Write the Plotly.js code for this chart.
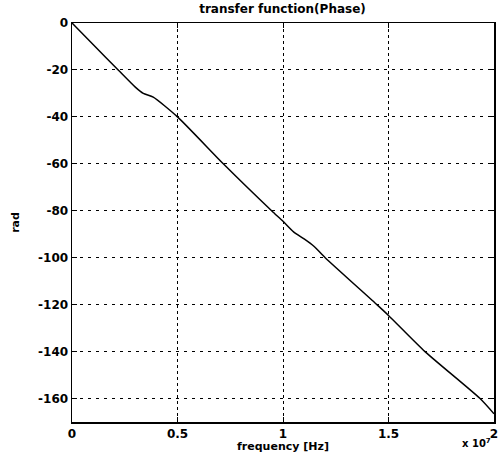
<!DOCTYPE html>
<html>
<head>
<meta charset="utf-8">
<script src="https://cdn.plot.ly/plotly-3.0.1.min.js"></script>
<style>html,body{margin:0;padding:0;background:#fff;}#chart{width:500px;height:453px;}</style>
</head>
<body>
<div id="chart"></div>
<script>
// frequency in units of 1e7 Hz
const freq = [0, 0.1, 0.219, 0.3, 0.338, 0.385, 0.5, 0.717, 0.946, 1.0, 1.05, 1.1, 1.145, 1.2, 1.445, 1.5, 1.673, 1.934, 2.0];
const phase = [0, -9.2, -20, -27.3, -30, -31.6, -40, -60, -80, -84.5, -89, -92, -95, -100, -120, -124.6, -140, -160, -166.5];
const xTicks = [0, 0.5, 1, 1.5, 2];
const xTickText = ['0', '0.5', '1', '1.5', '2'];
const yTicks = [0, -20, -40, -60, -80, -100, -120, -140, -160];
const yTickText = ['0', '-20', '-40', '-60', '-80', '-100', '-120', '-140', '-160'];

const font = {family: 'DejaVu Sans, sans-serif', size: 12, color: '#000', weight: 'bold'};
const smallFont = {family: 'DejaVu Sans, sans-serif', size: 11, color: '#000', weight: 'bold'};
const expFont = {family: 'DejaVu Sans, sans-serif', size: 10, color: '#000', weight: 'bold'};

Plotly.newPlot('chart', [{
  x: freq, y: phase, type: 'scatter', mode: 'lines',
  line: {color: '#000', width: 1.5, shape: 'spline', smoothing: 0.6}
}], {
  width: 500, height: 453,
  margin: {l: 72, r: 6, t: 23, b: 31},
  paper_bgcolor: '#fff', plot_bgcolor: '#fff',
  showlegend: false,
  font: font,
  title: {text: 'transfer function(Phase)', font: font, x: 0.565, xanchor: 'center', y: 0.99, yanchor: 'top'},
  xaxis: {
    range: [0, 2], tickvals: xTicks, ticktext: xTickText,
    showline: true, linecolor: '#000', linewidth: 1.5, mirror: 'ticks',
    ticks: 'inside', ticklen: 5, tickcolor: '#000',
    showgrid: true, gridcolor: '#000', gridwidth: 1, griddash: 'dot',
    zeroline: false, tickfont: font,
    title: {text: 'frequency [Hz]', font: smallFont, standoff: 0}
  },
  yaxis: {
    range: [-170, 0], tickvals: yTicks, ticktext: yTickText,
    showline: true, linecolor: '#000', linewidth: 1.5, mirror: 'ticks',
    ticks: 'inside', ticklen: 5, tickcolor: '#000',
    showgrid: true, gridcolor: '#000', gridwidth: 1, griddash: '3px,5px',
    zeroline: false, tickfont: font,
    title: {text: 'rad', font: smallFont, standoff: 16}
  },
  annotations: [{
    text: 'x 10<sup>7</sup>', xref: 'paper', yref: 'paper', x: 0.995, y: -0.034,
    xanchor: 'right', yanchor: 'top', showarrow: false, font: expFont,
    borderpad: 0
  }]
}, {displayModeBar: false, staticPlot: true});
</script>
</body>
</html>
